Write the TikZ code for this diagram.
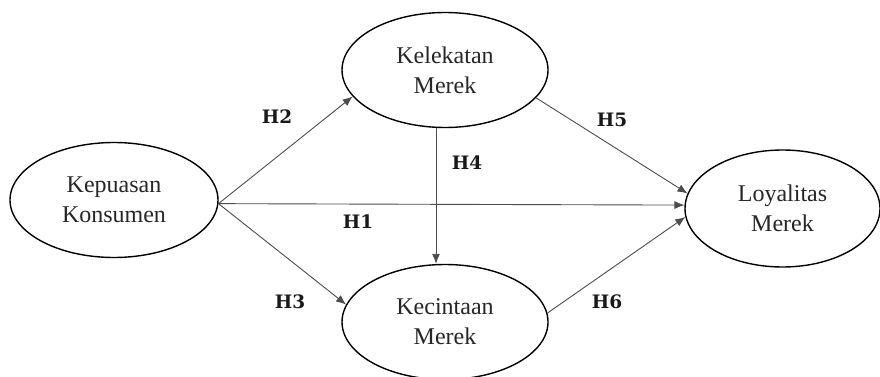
\documentclass[tikz,border=0pt]{standalone}
\usepackage{fontspec}
\setmainfont{Liberation Serif}
\newfontfamily\labelfont{DejaVu Serif}
\usetikzlibrary{shapes.geometric,arrows.meta}
\begin{document}
\begin{tikzpicture}[x=1pt, y=-1pt,
    var/.style={draw, ellipse, line width=1.4pt, minimum width=206pt, minimum height=115pt, inner sep=0pt, align=center, font=\fontsize{24}{30}\selectfont, text=black!85},
    hyp/.style={font=\labelfont\fontsize{18.5}{22}\selectfont\bfseries, text=black!90},
    panah/.style={draw=black!70, line width=0.9pt, -{Latex[length=10pt,width=8pt]}}]
    \useasboundingbox (0,0) rectangle (880,377);
    \node (kepuasan) [var, minimum width=208pt] at (114,200) {Kepuasan\\Konsumen};
    \node (kelekatan) [var] at (445,70) {Kelekatan\\Merek};
    \node (kecintaan) [var] at (445,322) {Kecintaan\\Merek};
    \node (loyalitas) [var, minimum width=195pt, minimum height=117pt] at (782.5,208.5) {Loyalitas\\Merek};

    \draw[panah] (kepuasan.358) -- (loyalitas.178);
    \draw[panah] (kepuasan.358) -- (kelekatan.196);
    \draw[panah] (kepuasan.358) -- (kecintaan.170);
    \draw[panah] ([xshift=-9pt]kelekatan.south) -- ([xshift=-9pt]kecintaan.north);
    \draw[panah] (kelekatan.343) -- (loyalitas.171);
    \draw[panah] (kecintaan.5) -- (loyalitas.185);

    \node (h1) [hyp] at (358,222) {H1};
    \node (h2) [hyp] at (277,117) {H2};
    \node (h3) [hyp] at (290,302) {H3};
    \node (h4) [hyp] at (467,163) {H4};
    \node (h5) [hyp] at (612,120) {H5};
    \node (h6) [hyp] at (607,302) {H6};
\end{tikzpicture}
\end{document}
